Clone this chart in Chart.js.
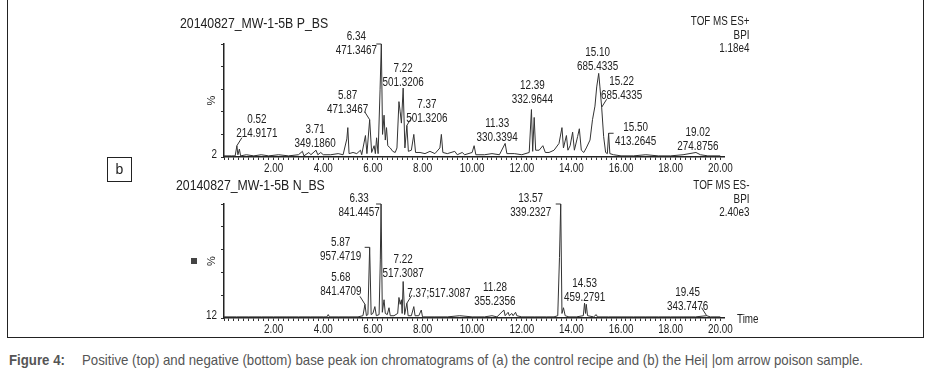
<!DOCTYPE html>
<html>
<head>
<meta charset="utf-8">
<script src="https://cdn.jsdelivr.net/npm/chart.js@4.4.0/dist/chart.umd.min.js"></script>
<style>
  body { margin: 0; background: #fff; width: 935px; height: 391px; overflow: hidden;
         font-family: "Liberation Sans", Arial, sans-serif; color: #222; }
  canvas { position: absolute; left: 0; }
  .txt { position: absolute; white-space: nowrap; transform: scaleX(0.82); transform-origin: left top; }
  #frame { position: absolute; left: 7px; top: -3px; width: 915px; height: 340px;
           border: 1.5px solid #222; border-top: none; }
  .title { font-size: 15px; line-height: 15px; }
  .tof { font-size: 12px; line-height: 13.5px; text-align: right; right: 186px; transform-origin: right top; }
  #bbox { position: absolute; left: 107px; top: 157px; width: 23px; height: 23px; border: 1px solid #222;
          font-size: 14px; line-height: 23px; text-align: center; }
  #caption { left: 9px; top: 352px; font-size: 14.5px; line-height: 16px; color: #555; transform: scaleX(0.913); }
  #caption b { display: inline-block; width: 80px; }
</style>
</head>
<body>
<div id="frame"></div>
<canvas id="posChart" width="935" height="180" style="top:0"></canvas>
<canvas id="negChart" width="935" height="160" style="top:180px"></canvas>

<div class="txt title" style="left:180px;top:15px">20140827_MW-1-5B P_BS</div>
<div class="txt tof" style="top:15px">TOF MS ES+<br>BPI<br>1.18e4</div>
<div class="txt title" style="left:176px;top:177px">20140827_MW-1-5B N_BS</div>
<div class="txt tof" style="top:179px">TOF MS ES-<br>BPI<br>2.40e3</div>
<div class="txt" style="left:737px;top:312px;font-size:12px;line-height:14px">Time</div>
<div id="bbox">b</div>
<div id="caption" class="txt"><b>Figure 4:</b>Positive (top) and negative (bottom) base peak ion chromatograms of (a) the control recipe and (b) the Hei| |om arrow poison sample.</div>

<script>
// positive mode BPI trace (time in min, % of base peak)
const posTime = [0.00, 0.30, 0.45, 0.52, 0.56, 0.62, 0.67, 0.90, 1.20, 1.50, 1.80, 2.20, 2.60, 3.00, 3.16, 3.22,
  3.42, 3.50, 3.71, 3.78, 3.90, 4.00, 4.30, 4.60, 4.80, 4.95, 4.99, 5.04, 5.20, 5.35, 5.50, 5.55, 5.70, 5.76,
  5.87, 5.95, 6.05, 6.10, 6.15, 6.21, 6.29, 6.34, 6.39, 6.45, 6.50, 6.55, 6.60, 6.70, 6.80, 6.90, 6.97, 7.05,
  7.10, 7.15, 7.22, 7.29, 7.37, 7.43, 7.55, 7.65, 7.72, 7.90, 8.10, 8.30, 8.50, 8.70, 8.76, 8.82, 9.00, 9.30,
  9.40, 9.60, 9.70, 10.00, 10.08, 10.15, 10.50, 10.80, 11.10, 11.33, 11.40, 11.70, 12.00, 12.30, 12.39, 12.44,
  12.50, 12.56, 12.70, 12.85, 12.95, 13.10, 13.30, 13.50, 13.62, 13.68, 13.80, 13.86, 13.95, 14.05, 14.12,
  14.25, 14.32, 14.40, 14.50, 14.60, 14.75, 14.85, 14.95, 15.02, 15.10, 15.15, 15.22, 15.30, 15.38, 15.45,
  15.50, 15.55, 15.70, 16.00, 16.50, 17.00, 17.50, 18.00, 18.50, 19.02, 19.20, 19.50, 20.00];
const posIntensity = [1, 1, 1, 10, 2, 7, 1, 2, 1, 2, 1, 2, 1, 2, 5, 1,
  4, 2, 6, 2, 4, 2, 2, 3, 2, 16, 26, 3, 4, 3, 6, 2, 19, 3,
  33, 4, 10, 3, 17, 3, 60, 100, 20, 37, 15, 26, 10, 8, 5, 4, 8, 49,
  40, 30, 61, 8, 28, 5, 6, 20, 4, 4, 3, 5, 3, 8, 20, 4, 3, 5,
  2, 4, 2, 4, 10, 2, 2, 3, 2, 12, 3, 3, 2, 4, 42, 5,
  35, 6, 6, 10, 4, 4, 6, 12, 26, 8, 19, 6, 10, 22, 6,
  18, 25, 6, 4, 8, 15, 33, 45, 62, 74, 62, 44, 18, 4, 3,
  21, 3, 2, 1, 1, 2, 1, 1, 2, 4, 2, 1, 1];
const posPeakRT = [0.52, 3.71, 5.87, 6.34, 7.22, 7.37, 11.33, 12.39, 15.10, 15.22, 15.50, 19.02];
const posPeakMZ = ['214.9171', '349.1860', '471.3467', '471.3467', '501.3206', '501.3206', '330.3394',
  '332.9644', '685.4335', '685.4335', '413.2645', '274.8756'];

// negative mode BPI trace
const negTime = [0.00, 0.50, 1.00, 1.50, 2.00, 2.50, 3.00, 3.50, 4.00, 4.15, 4.20, 4.25, 4.60, 5.00, 5.40,
  5.60, 5.68, 5.74, 5.80, 5.87, 5.93, 6.00, 6.08, 6.14, 6.25, 6.30, 6.33, 6.38, 6.45, 6.50, 6.58, 6.65, 6.70,
  6.85, 7.00, 7.05, 7.10, 7.15, 7.18, 7.22, 7.28, 7.37, 7.42, 7.55, 7.65, 7.70, 7.85, 7.95, 8.00, 8.50, 9.00,
  9.50, 10.00, 10.50, 10.80, 11.00, 11.28, 11.33, 11.45, 11.50, 11.60, 11.65, 11.75, 11.80, 12.00, 12.50,
  13.00, 13.30, 13.45, 13.52, 13.57, 13.62, 13.68, 13.75, 13.90, 14.20, 14.48, 14.53, 14.57, 14.60, 14.65,
  14.90, 15.00, 15.05, 15.50, 16.00, 16.50, 17.00, 17.50, 18.00, 18.50, 19.00, 19.45, 19.60, 20.00];
const negIntensity = [1, 1, 1, 1, 1, 1, 1, 1, 1, 1, 3, 1, 1, 1, 1,
  2, 12, 2, 3, 62, 3, 4, 10, 2, 3, 51, 100, 5, 16, 4, 3, 9, 2,
  2, 4, 18, 12, 16, 4, 32, 3, 13, 2, 2, 10, 2, 2, 7, 1, 1, 1,
  2, 1, 1, 2, 1, 7, 2, 5, 2, 4, 2, 5, 2, 1, 1,
  1, 1, 2, 53, 100, 4, 9, 2, 1, 1, 2, 13, 4, 12, 2,
  1, 3, 1, 1, 1, 1, 1, 1, 1, 1, 1, 2, 1, 1];
const negPeakRT = [5.68, 5.87, 6.33, 7.22, 7.37, 11.28, 13.57, 14.53, 19.45];
const negPeakMZ = ['841.4709', '957.4719', '841.4457', '517.3087', '517.3087', '355.2356', '339.2327',
  '459.2791', '343.7476'];

const FONT = '"Liberation Sans", Arial, sans-serif';
Chart.defaults.font.family = FONT;
Chart.defaults.color = '#222';

// Arial-Narrow look: Liberation Sans squeezed horizontally
function narrowText(ctx, text, x, y) {
  ctx.save();
  ctx.translate(x, y);
  ctx.scale(0.79, 1);
  ctx.fillText(text, 0, 0);
  ctx.restore();
}

// draws time tick labels, peak labels, leader ticks, % and baseline count
const peakLabelPlugin = {
  id: 'peakLabels',
  afterDatasetsDraw(chart, args, opts) {
    const { ctx, chartArea, scales } = chart;
    const pts = chart.data.datasets[0].data;
    ctx.save();
    ctx.fillStyle = '#222';
    ctx.strokeStyle = '#333';
    ctx.lineWidth = 1;
    ctx.font = '12.5px ' + FONT;
    ctx.textAlign = 'center';
    ctx.textBaseline = 'middle';

    scales.x.ticks.forEach(t => {
      const r = t.value / 2;
      if (t.value > 0.01 && Math.abs(r - Math.round(r)) < 1e-6) {
        narrowText(ctx, t.value.toFixed(2), scales.x.getPixelForValue(t.value), chartArea.bottom + 12);
      }
    });

    opts.rt.forEach((rt, i) => {
      let best = pts[0];
      pts.forEach(p => { if (Math.abs(p.x - rt) < Math.abs(best.x - rt)) best = p; });
      const ax = scales.x.getPixelForValue(best.x);
      const ay = scales.y.getPixelForValue(best.y);
      const [dx, dy, leader, single] = opts.layout[i];
      const cx = ax + dx, ly = ay + dy;
      if (single) {
        narrowText(ctx, rt.toFixed(2) + ';' + opts.mz[i], cx, ly);
      } else {
        narrowText(ctx, rt.toFixed(2), cx, ly - 14);
        narrowText(ctx, opts.mz[i], cx, ly);
      }
      if (leader) {
        const s = leader[1] === 'l' ? -1 : 1;
        ctx.beginPath();
        ctx.moveTo(ax, ay);
        if (leader[0] === 'h') ctx.lineTo(ax + 5 * s, ay);
        else ctx.lineTo(ax + 5 * s, ay - 8);
        ctx.stroke();
      }
    });

    const midY = (chartArea.top + chartArea.bottom) / 2;
    ctx.font = '11px ' + FONT;
    ctx.save();
    ctx.translate(chartArea.left - 12, midY);
    ctx.rotate(-Math.PI / 2);
    ctx.fillText('%', 0, 0);
    ctx.restore();
    ctx.font = '12.5px ' + FONT;
    ctx.textAlign = 'right';
    narrowText(ctx, opts.base, chartArea.left - 7, chartArea.bottom - 2);
    if (opts.marker) {
      ctx.fillStyle = '#444';
      ctx.fillRect(chartArea.left - 33, midY - 3, 6, 6);
    }
    ctx.restore();
  }
};

function buildChart(id, times, values, peakRT, peakMZ, layout, base, marker, pad) {
  const points = times.map((t, i) => ({ x: t, y: values[i] }));
  return new Chart(document.getElementById(id), {
    type: 'line',
    data: {
      datasets: [{
        data: points,
        borderColor: '#333',
        borderWidth: 1,
        pointRadius: 0,
        tension: 0,
        fill: false
      }]
    },
    options: {
      responsive: false,
      animation: false,
      events: [],
      layout: { padding: pad },
      plugins: {
        legend: { display: false },
        tooltip: { enabled: false },
        peakLabels: { rt: peakRT, mz: peakMZ, layout: layout, base: base, marker: marker }
      },
      scales: {
        x: {
          type: 'linear',
          min: 0,
          max: 20.15,
          afterFit: s => { s.height = 20; },
          border: { color: '#222', width: 1.5 },
          grid: { drawOnChartArea: false, tickLength: 3, color: '#333' },
          ticks: { stepSize: 0.2, includeBounds: false, autoSkip: false, maxRotation: 0, callback: () => '' }
        },
        y: {
          min: 0,
          max: 100,
          afterFit: s => { s.width = 8; },
          border: { color: '#222', width: 1.5 },
          grid: { drawOnChartArea: false, tickLength: 3, color: '#333' },
          ticks: { stepSize: 10, callback: () => '' }
        }
      }
    },
    plugins: [peakLabelPlugin]
  });
}

// label offsets: [dx, dy of m/z line from apex, leader, single line]
buildChart('posChart', posTime, posIntensity, posPeakRT, posPeakMZ, [
  [20, -12, 'dr'], [-1, -7, ''], [-22, -10, 'dl'], [-25, 7, 'hl'], [0, -6, ''], [20, -7, 'dr'],
  [-8, -6, ''], [1, -10, ''], [-1, -7, ''], [20, -12, 'dr'], [27, 8, 'hr'], [2, -6, '']
], '2', false, { left: 216, right: 211, top: 44, bottom: 3 });

buildChart('negChart', negTime, negIntensity, negPeakRT, negPeakMZ, [
  [-24, -13, 'dl'], [-29, 9, 'hl'], [-22, 9, 'hl'], [0, -8, ''], [32, -10, 'dr', true],
  [-9, -8, ''], [-30, 9, 'hl'], [0, -6, ''], [-19, -9, 'dl']
], '12', true, { left: 216, right: 211, top: 24, bottom: 2 });
</script>
</body>
</html>
